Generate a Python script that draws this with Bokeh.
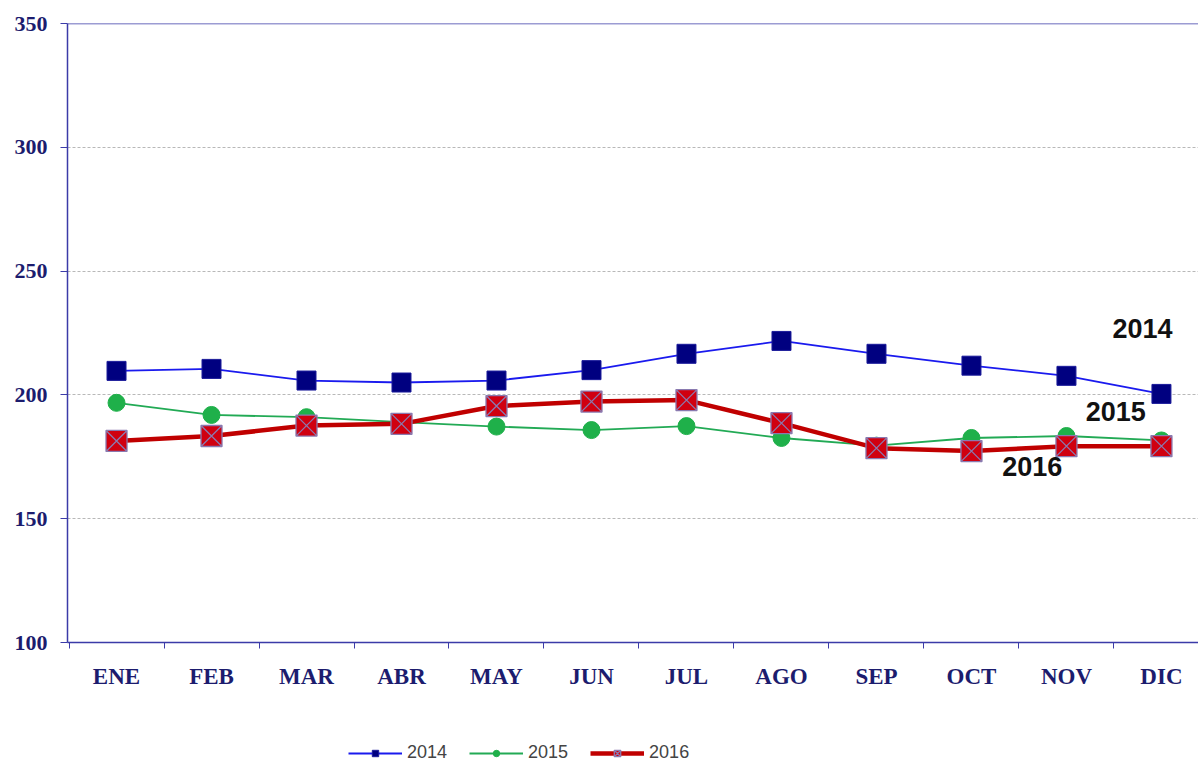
from bokeh.plotting import figure
from bokeh.layouts import column
from bokeh.models import Range1d, FixedTicker, Legend, LegendItem, Label, Span, ColumnDataSource
from bokeh.embed import file_html
from bokeh.resources import INLINE

months = ["ENE", "FEB", "MAR", "ABR", "MAY", "JUN", "JUL", "AGO", "SEP", "OCT", "NOV", "DIC"]
v2014 = [209.7, 210.5, 205.8, 205.0, 205.8, 210.0, 216.6, 221.8, 216.6, 211.8, 207.7, 200.4]
v2015 = [196.8, 191.9, 191.0, 189.0, 187.2, 185.8, 187.4, 182.6, 179.5, 182.6, 183.4, 181.6]
v2016 = [181.4, 183.4, 187.6, 188.3, 195.5, 197.3, 197.9, 188.6, 178.5, 177.3, 179.3, 179.3]
series_names = ["2014", "2015", "2016"]
y_ticks = [100, 150, 200, 250, 300, 350]

x = list(range(1, len(months) + 1))

AXIS = "#3b3ba8"
LABEL = "#1c1c6e"

p = figure(width=1198, height=700, output_backend="svg", toolbar_location=None,
           x_range=Range1d(0.484, 12.39), y_range=Range1d(100, 350),
           min_border_left=67, min_border_top=23, min_border_right=0, min_border_bottom=58,
           outline_line_color=None, background_fill_color="white",
           border_fill_color="white")

# axes
p.xaxis.ticker = FixedTicker(ticks=x, minor_ticks=[i + 0.5 for i in range(0, 13)])
p.xaxis.major_label_overrides = {i: m for i, m in zip(x, months)}
p.xaxis.major_tick_out = 0
p.xaxis.major_tick_in = 0
p.xaxis.minor_tick_out = 6
p.xaxis.minor_tick_in = 0
p.xaxis.minor_tick_line_color = AXIS
p.xaxis.axis_line_color = AXIS
p.xaxis.axis_line_width = 1.5
p.xaxis.major_label_text_font = "Liberation Serif"
p.xaxis.major_label_text_font_style = "bold"
p.xaxis.major_label_text_font_size = "23px"
p.xaxis.major_label_text_color = LABEL
p.xaxis.major_label_standoff = 15

p.yaxis.ticker = FixedTicker(ticks=y_ticks)
p.yaxis.minor_tick_line_color = None
p.yaxis.major_tick_out = 7
p.yaxis.major_tick_in = 0
p.yaxis.major_tick_line_color = AXIS
p.yaxis.axis_line_color = AXIS
p.yaxis.axis_line_width = 1.5
p.yaxis.major_label_text_font = "Liberation Serif"
p.yaxis.major_label_text_font_style = "bold"
p.yaxis.major_label_text_font_size = "22px"
p.yaxis.major_label_text_color = LABEL
p.yaxis.major_label_standoff = 13

p.xgrid.grid_line_color = None
p.ygrid.ticker = FixedTicker(ticks=[150, 200, 250, 300])
p.ygrid.grid_line_color = "#b8b8b8"
p.ygrid.grid_line_dash = "3 2"
p.ygrid.grid_line_width = 1

p.add_layout(Span(location=350, dimension="width", line_color=AXIS, line_width=1.5))

# styles per series
line_styles = [dict(line_color="#1a1aee", line_width=1.8),
               dict(line_color="#22aa55", line_width=1.8),
               dict(line_color="#c00000", line_width=4.5)]
marker_styles = [dict(marker="square", size=19, fill_color="#000080", line_color="#1a1a9a"),
                 dict(marker="circle", size=17, fill_color="#1fb04a", line_color="#1fb04a"),
                 dict(marker="square_x", size=21, fill_color="#d00010", line_color="#8a7ab0",
                      line_width=1.3)]

for vals, ls, ms in zip([v2014, v2015, v2016], line_styles, marker_styles):
    p.line(x, vals, **ls)
    p.scatter(x, vals, **ms)

for txt, xx, yy in [("2014", 11.8, 226.7), ("2015", 11.52, 193.1), ("2016", 10.64, 170.9)]:
    p.add_layout(Label(x=xx, y=yy, text=txt, text_align="center", text_baseline="middle",
                       text_font="Liberation Sans", text_font_style="bold",
                       text_font_size="27px", text_color="#111111"))

# legend strip below the chart (helper renderers sit outside its visible range)
p2 = figure(width=1198, height=64, output_backend="svg", toolbar_location=None,
            x_axis_location=None, y_axis_location=None,
            x_range=Range1d(0, 1), y_range=Range1d(0, 1),
            min_border=0, outline_line_color=None, border_fill_color="white")
p2.xgrid.grid_line_color = None
p2.ygrid.grid_line_color = None

items = []
for name, ls, ms in zip(series_names, line_styles, marker_styles):
    src = ColumnDataSource(data=dict(x=[-5, -4], y=[-5, -5]))
    r_line = p2.line("x", "y", source=src, **ls)
    r_mark = p2.scatter("x", "y", source=src, **ms)
    items.append(LegendItem(label=name, renderers=[r_line, r_mark]))

legend = Legend(items=items, orientation="horizontal", location=(281, 1),
                label_text_font="Liberation Sans", label_text_font_size="18px",
                label_text_color="#444444", glyph_width=54, glyph_height=16,
                label_height=16, label_standoff=5, spacing=22, border_line_color=None,
                background_fill_alpha=0, margin=0, padding=0)
p2.add_layout(legend, "center")

layout = column(p, p2, spacing=0)
open("out.html", "w").write(file_html(layout, INLINE))
